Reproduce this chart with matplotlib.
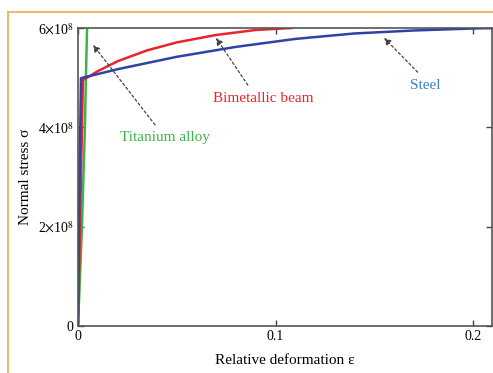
import matplotlib.pyplot as plt
from matplotlib.lines import Line2D

# strain / stress points
steel_eps = [0.0, 0.0008, 0.0015, 0.02, 0.05, 0.08, 0.11, 0.14, 0.17, 0.2, 0.21]
steel_sig = [0.0, 3.0e8, 4.99e8, 5.17e8, 5.42e8, 5.62e8, 5.78e8, 5.89e8, 5.95e8, 5.99e8, 6.0e8]

bimetal_eps = [0.0, 0.0015, 0.0025, 0.01, 0.02, 0.035, 0.05, 0.07, 0.09, 0.108]
bimetal_sig = [0.0, 3.0e8, 4.95e8, 5.13e8, 5.33e8, 5.55e8, 5.71e8, 5.86e8, 5.96e8, 6.0e8]

titan_eps = [0.0, 0.002, 0.0035, 0.004, 0.0046]
titan_sig = [0.0, 2.0e8, 4.0e8, 5.0e8, 6.0e8]

x_ticks = [0, 0.1, 0.2]
x_labels = ["0", "0.1", "0.2"]
y_ticks = [0, 2e8, 4e8, 6e8]
y_labels = ["0", r"2$\times$10$^8$", r"4$\times$10$^8$", r"6$\times$10$^8$"]

plt.rcParams['font.family'] = ['Liberation Serif', 'DejaVu Serif']
plt.rcParams['mathtext.fontset'] = 'stix'

fig = plt.figure(figsize=(4.93, 3.73), dpi=100)
ax = fig.add_axes([78 / 493, 1 - 326 / 373, 414 / 493, 298 / 373])

ax.plot(titan_eps, titan_sig, color='#3cb44a', lw=1.8)
ax.plot(bimetal_eps, bimetal_sig, color='#e8262b', lw=1.8)
ax.plot(steel_eps, steel_sig, color='#2e43a6', lw=1.8)

ax.set_xlim(0, 414 / 1975)
ax.set_ylim(0, 6e8)
ax.set_xticks(x_ticks)
ax.set_xticklabels(x_labels)
ax.set_yticks(y_ticks)
ax.set_yticklabels(y_labels)
ax.tick_params(direction='in', top=True, right=True, length=4, width=1,
               color='#444444', labelsize=10, pad=3)
for s in ax.spines.values():
    s.set_color('#555555')
    s.set_linewidth(1.2)

ax.set_xlabel("Relative deformation ε", fontsize=11, labelpad=8)
ax.set_ylabel("Normal stress σ", fontsize=11, labelpad=4)

arrow = dict(arrowstyle='-|>', linestyle=(0, (2, 2)), color='#444444',
             lw=0.9, mutation_scale=10, shrinkA=0, shrinkB=0)
ax.annotate("", xy=(0.0076, 5.66e8), xytext=(0.039, 4.05e8), arrowprops=arrow)
ax.annotate("", xy=(0.0699, 5.80e8), xytext=(0.086, 4.85e8), arrowprops=arrow)
ax.annotate("", xy=(0.155, 5.80e8), xytext=(0.172, 5.11e8), arrowprops=arrow)

ax.text(0.044, 3.79e8, "Titanium alloy", color='#3cb44a', fontsize=11,
        ha='center', va='center')
ax.text(0.094, 4.59e8, "Bimetallic beam", color='#e8262b', fontsize=11,
        ha='center', va='center')
ax.text(0.176, 4.85e8, "Steel", color='#3a80c4', fontsize=11,
        ha='center', va='center')

# orange frame around the figure
fig.add_artist(Line2D([8 / 493, 8 / 493], [0, 1 - 12 / 373],
                      transform=fig.transFigure, color='#f7a54e', lw=1.2))
fig.add_artist(Line2D([8 / 493, 1], [1 - 12 / 373, 1 - 12 / 373],
                      transform=fig.transFigure, color='#f7a54e', lw=1.2))

fig.savefig("out.png", dpi=100)
